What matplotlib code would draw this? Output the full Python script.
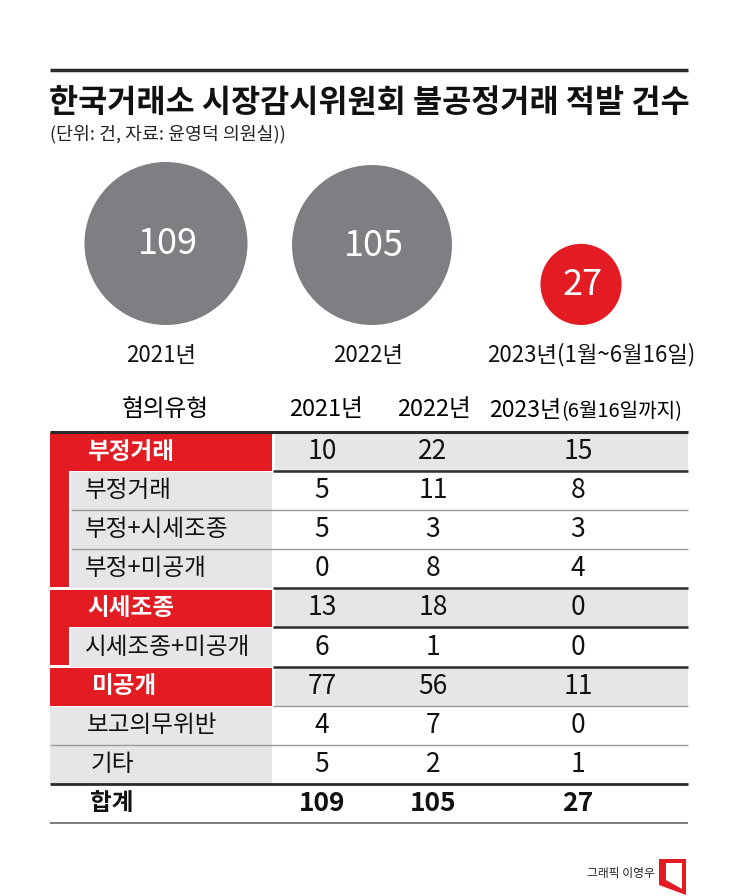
import numpy as np
import matplotlib
matplotlib.use('Agg')
import matplotlib.pyplot as plt
from matplotlib.patches import Circle, Rectangle, Polygon

plt.rcParams['font.family'] = ['Noto Sans CJK KR', 'DejaVu Sans']

# data
years = ['2021년', '2022년', '2023년(1월~6월16일)']
totals = [109, 105, 27]
header = ['혐의유형', '2021년', '2022년', '2023년']
header_note = '(6월16일까지)'
rows = ['부정거래', '부정거래', '부정+시세조종', '부정+미공개', '시세조종',
        '시세조종+미공개', '미공개', '보고의무위반', '기타']
kinds = ['main', 'sub', 'sub', 'sub', 'main', 'sub', 'main', 'plain', 'plain']
v2021 = [10, 5, 5, 0, 13, 6, 77, 4, 5]
v2022 = [22, 11, 3, 8, 18, 1, 56, 7, 2]
v2023 = [15, 8, 3, 4, 0, 0, 11, 0, 1]
total_label = '합계'

RED = '#e31b23'
GRAY = '#7e7f83'
CELL = '#e6e6e8'
DARK = '#2b2b2b'
LIGHT = '#9a9a9a'

fig = plt.figure(figsize=(7.45, 8.96), dpi=100)
ax = fig.add_axes([0, 0, 1, 1])
ax.set_xlim(0, 745)
ax.set_ylim(896, 0)
ax.axis('off')

# title block
ax.plot([50, 688], [70, 70], color=DARK, lw=2.5, solid_capstyle='butt')
ax.text(49, 103, '한국거래소 시장감시위원회 불공정거래 적발 건수', fontsize=22.8,
        fontweight='bold', ha='left', va='center', color='#111111')
ax.text(50, 134, '(단위: 건, 자료: 윤영덕 의원실))', fontsize=13.2,
        ha='left', va='center', color='#222222')

# bubbles, area ~ value
cx = [166, 372, 581]
r_max = 81.5
for i, v in enumerate(totals):
    r = r_max * np.sqrt(v / max(totals))
    cy = 325 - r
    col = RED if i == 2 else GRAY
    ax.add_patch(Circle((cx[i], cy), r, color=col, lw=0))
    ax.text(cx[i] + 2, cy + 1, str(v), fontsize=26, color='white',
            ha='center', va='center')
label_x = [161, 368, 591]
for i, lab in enumerate(years):
    ax.text(label_x[i], 355, lab, fontsize=16, ha='center',
            va='center', color='#111111')

# table
top = 432
rh = 39.1
col_x = [322, 433, 578]
ax.text(165, 410, header[0], fontsize=17, ha='center', va='center')
ax.text(326, 410, header[1], fontsize=17, ha='center', va='center')
ax.text(434, 410, header[2], fontsize=17, ha='center', va='center')
ax.text(561, 417, header[3], fontsize=16.5, ha='right', va='baseline')
ax.text(561, 417, header_note, fontsize=14.5, ha='left', va='baseline')

for i, lab in enumerate(rows):
    y0 = top + i * rh
    yc = y0 + rh / 2
    k = kinds[i]
    if k == 'main':
        ax.add_patch(Rectangle((50, y0 + 1.5), 222, rh - 1.5, color=RED, lw=0))
        ax.add_patch(Rectangle((275, y0 + 1), 413, rh - 1, color=CELL, lw=0))
        ax.text(87 if i < 6 else 92, yc, lab, fontsize=17, fontweight='bold',
                color='white', ha='left', va='center')
    elif k == 'sub':
        last = i + 1 == len(rows) or kinds[i + 1] != 'sub'
        ax.add_patch(Rectangle((50, y0), 19, rh - (1.5 if last else 0),
                               color=RED, lw=0))
        ax.add_patch(Rectangle((71, y0 + 1), 201, rh - 1, color=CELL, lw=0))
        ax.text(85, yc, lab, fontsize=17, color='#111111', ha='left', va='center')
    else:
        ax.add_patch(Rectangle((50, y0 + 1), 222, rh - 1, color=CELL, lw=0))
        ax.text(87 if lab != '기타' else 91, yc, lab, fontsize=17,
                color='#111111', ha='left', va='center')
    for j, vals in enumerate([v2021, v2022, v2023]):
        ax.text(col_x[j], yc, str(vals[i]), fontsize=19, ha='center',
                va='center', color='#111111')

# total row
y_tot = top + len(rows) * rh
ax.text(90, y_tot + rh / 2, total_label, fontsize=17, fontweight='bold',
        ha='left', va='center', color='#111111')
for j, v in enumerate(totals):
    ax.text(col_x[j], y_tot + rh / 2, str(v), fontsize=19, fontweight='bold',
            ha='center', va='center', color='#111111')

# rules
def rule(i, x0, c, lw):
    y = top + i * rh
    ax.plot([x0, 688], [y, y], color=c, lw=lw, solid_capstyle='butt', zorder=5)

rule(0, 50, DARK, 2.2)
for i in [1, 4, 5, 6]:
    rule(i, 273, DARK, 1.8)
rule(2, 71, LIGHT, 1.0)
rule(3, 71, LIGHT, 1.0)
rule(7, 273, LIGHT, 1.0)
rule(8, 50, LIGHT, 1.0)
rule(9, 50, DARK, 2.0)
rule(10, 50, '#666666', 1.2)

# credit
ax.text(655, 873, '그래픽 이영우', fontsize=8.5, ha='right', va='center',
        color='#222222')
ax.add_patch(Polygon([(659, 859), (686, 859), (686, 895), (659, 885)],
                     closed=True, color=RED, lw=0))
ax.add_patch(Polygon([(666, 863), (682, 863), (682, 889), (666, 880)],
                     closed=True, color='white', lw=0))

fig.savefig('out.png', dpi=100)
